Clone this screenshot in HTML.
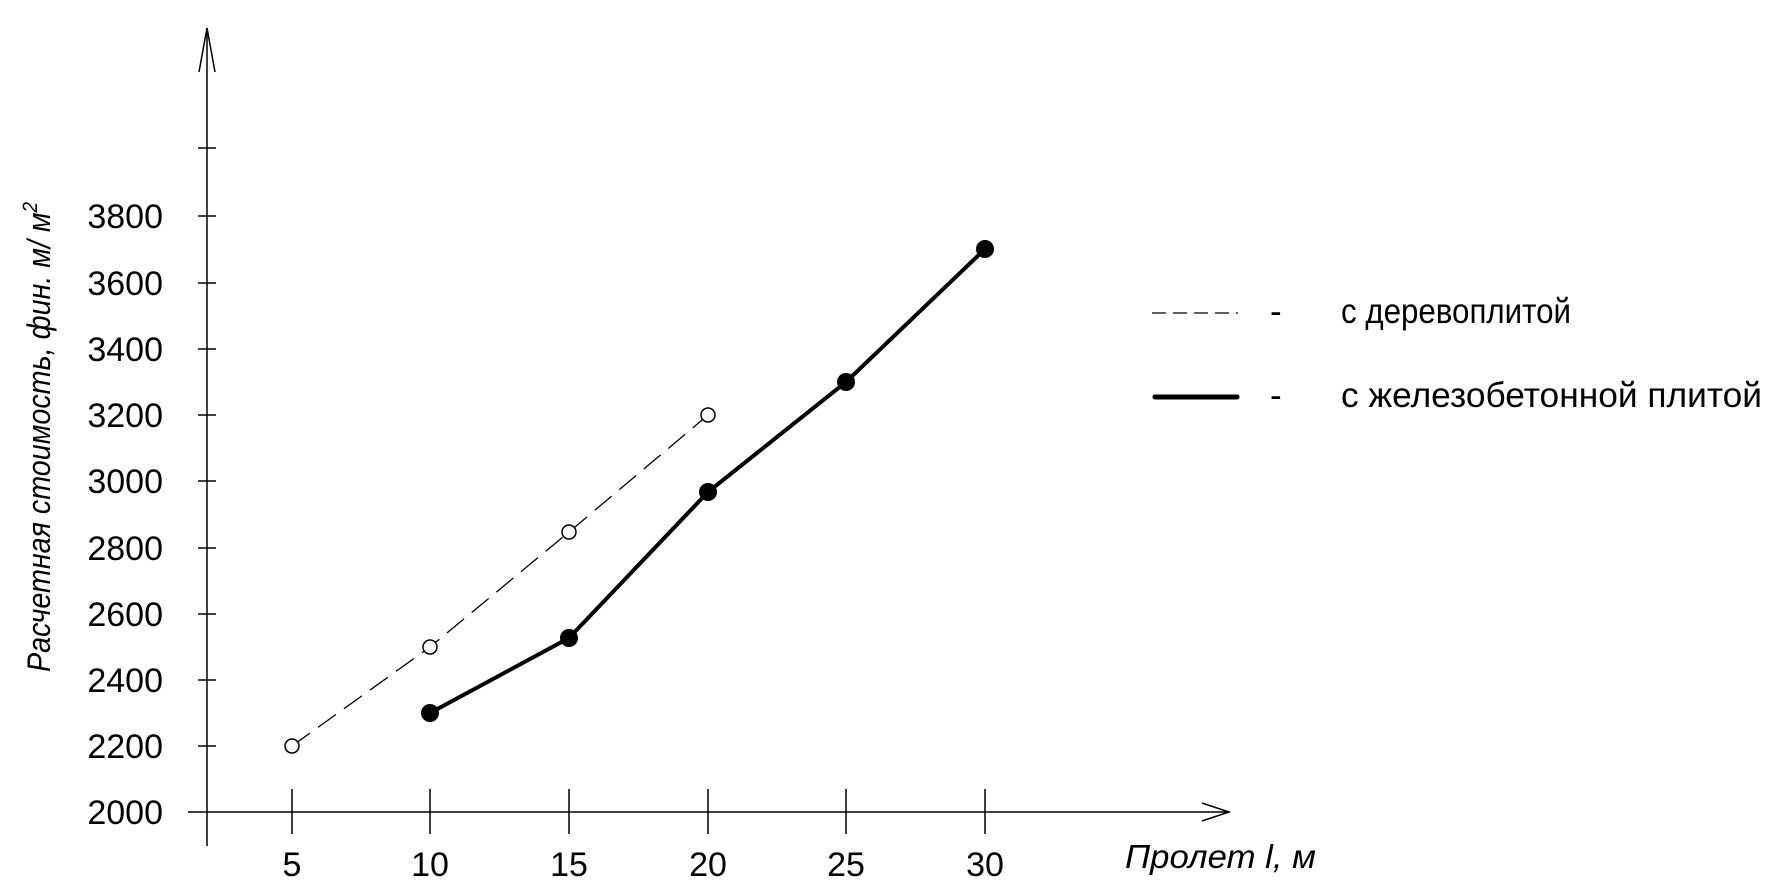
<!DOCTYPE html>
<html><head><meta charset="utf-8"><style>html,body{margin:0;padding:0;background:#fff}svg{display:block}</style></head>
<body>
<svg width="1777" height="885" viewBox="0 0 1777 885" xmlns="http://www.w3.org/2000/svg" font-family="Liberation Sans, Arial, sans-serif">
<g stroke="#000" stroke-width="1.5" fill="none">
<line x1="207" y1="28" x2="207" y2="846"/>
<polyline points="199,72 207,28 215,72"/>
<line x1="188" y1="812" x2="1229" y2="812"/>
<polyline points="1202,803 1229,812 1202,821"/>
<line x1="198" y1="746" x2="216" y2="746"/>
<line x1="198" y1="680" x2="216" y2="680"/>
<line x1="198" y1="614" x2="216" y2="614"/>
<line x1="198" y1="548" x2="216" y2="548"/>
<line x1="198" y1="481" x2="216" y2="481"/>
<line x1="198" y1="415" x2="216" y2="415"/>
<line x1="198" y1="349" x2="216" y2="349"/>
<line x1="198" y1="283" x2="216" y2="283"/>
<line x1="198" y1="216" x2="216" y2="216"/>
<line x1="198" y1="148" x2="216" y2="148"/>
<line x1="292" y1="789" x2="292" y2="834"/>
<line x1="430" y1="789" x2="430" y2="834"/>
<line x1="569" y1="789" x2="569" y2="834"/>
<line x1="708" y1="789" x2="708" y2="834"/>
<line x1="846" y1="789" x2="846" y2="834"/>
<line x1="985" y1="789" x2="985" y2="834"/>
</g>
<g font-size="34" text-anchor="end" fill="#000">
<text x="163" y="824">2000</text>
<text x="163" y="758">2200</text>
<text x="163" y="692">2400</text>
<text x="163" y="626">2600</text>
<text x="163" y="560">2800</text>
<text x="163" y="493">3000</text>
<text x="163" y="427">3200</text>
<text x="163" y="361">3400</text>
<text x="163" y="295">3600</text>
<text x="163" y="228">3800</text>
</g>
<g font-size="34" text-anchor="middle" fill="#000">
<text x="292" y="876">5</text>
<text x="430" y="876">10</text>
<text x="569" y="876">15</text>
<text x="708" y="876">20</text>
<text x="846" y="876">25</text>
<text x="985" y="876">30</text>
</g>
<text x="-672" y="50" transform="rotate(-90)" font-size="32" font-style="italic" textLength="470" lengthAdjust="spacingAndGlyphs">Расчетная стоимость, фин. м/ м<tspan font-size="21" dy="-13">2</tspan></text>
<text x="1125" y="868" font-size="33" font-style="italic" textLength="191" lengthAdjust="spacingAndGlyphs">Пролет l, м</text>
<polyline points="292,746 430,647 569,532 708,415" fill="none" stroke="#000" stroke-width="1.3" stroke-dasharray="22,10"/>
<polyline points="430,713 569,638 708,492 846,382 985,249" fill="none" stroke="#000" stroke-width="4"/>
<g fill="#fff" stroke="#000" stroke-width="1.5">
<circle cx="292" cy="746" r="7"/><circle cx="430" cy="647" r="7"/><circle cx="569" cy="532" r="7"/><circle cx="708" cy="415" r="7"/>
</g>
<g fill="#000">
<circle cx="430" cy="713" r="9"/><circle cx="569" cy="638" r="9"/><circle cx="708" cy="492" r="9"/><circle cx="846" cy="382" r="9"/><circle cx="985" cy="249" r="9"/>
</g>
<line x1="1152" y1="313" x2="1238" y2="313" stroke="#000" stroke-width="1.3" stroke-dasharray="14,7"/>
<line x1="1155" y1="397" x2="1237" y2="397" stroke="#000" stroke-width="5" stroke-linecap="round"/>
<g font-size="35" fill="#000">
<text x="1270" y="323">-</text>
<text x="1270" y="407">-</text>
<text x="1341" y="323" textLength="230" lengthAdjust="spacingAndGlyphs">с деревоплитой</text>
<text x="1341" y="407" textLength="421" lengthAdjust="spacingAndGlyphs">с железобетонной плитой</text>
</g>
</svg>
</body></html>
